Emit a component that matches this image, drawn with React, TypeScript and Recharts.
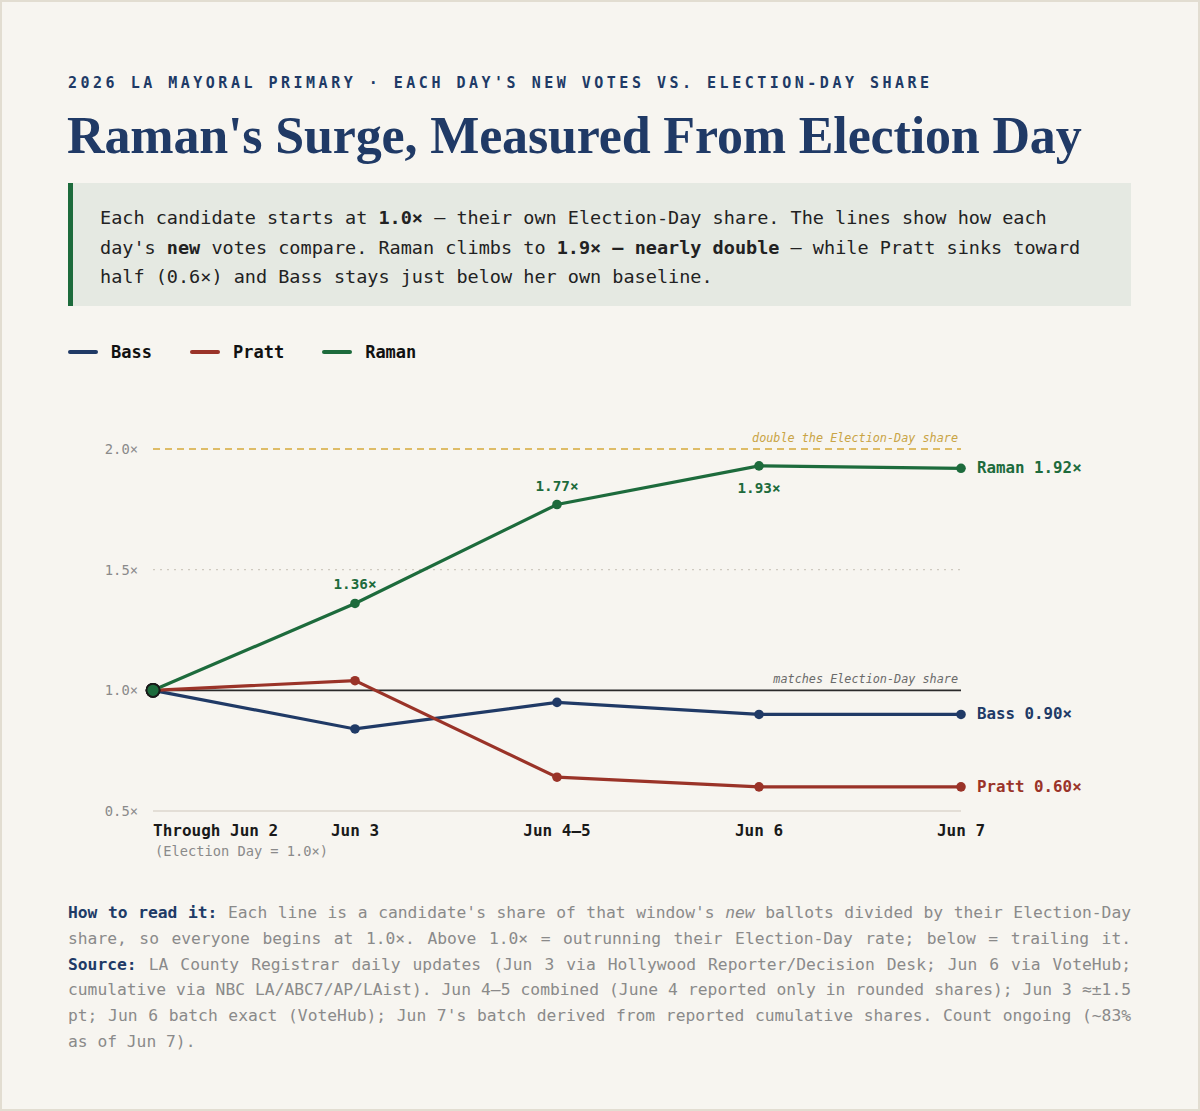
import { LineChart, Line, XAxis, YAxis, ReferenceLine } from "recharts"

const CATEGORIES = ["Through Jun 2", "Jun 3", "Jun 4–5", "Jun 6", "Jun 7"]
const BASS = [1.0, 0.84, 0.95, 0.9, 0.9]
const PRATT = [1.0, 1.04, 0.64, 0.6, 0.6]
const RAMAN = [1.0, 1.36, 1.77, 1.93, 1.92]
const Y_TICKS = [0.5, 1.0, 1.5, 2.0]
// which Raman points get a value label, and where
const RAMAN_LABELS: Record<number, "above" | "below"> = { 1: "above", 2: "above", 3: "below" }

const SERIES = [
  { key: "bass", name: "Bass", color: "#203a66", values: BASS },
  { key: "pratt", name: "Pratt", color: "#9a3328", values: PRATT },
  { key: "raman", name: "Raman", color: "#1d6b3c", values: RAMAN },
]

const data = CATEGORIES.map((c, i) => ({
  cat: c,
  bass: BASS[i],
  pratt: PRATT[i],
  raman: RAMAN[i],
}))

const MONO = "'DejaVu Sans Mono', 'Liberation Mono', monospace"
const NAVY = "#203a66"
const BG = "#f7f5f0"

function XTick({ x, y, payload, index }: any) {
  const first = index === 0
  return (
    <g>
      <text
        x={x}
        y={y + 15}
        textAnchor={first ? "start" : "middle"}
        fontFamily={MONO}
        fontSize={16}
        fontWeight={700}
        fill="#1a1a1a"
      >
        {payload.value}
      </text>
      {first && (
        <text x={x + 2} y={y + 35} textAnchor="start" fontFamily={MONO} fontSize={13.7} fill="#8a8a8a">
          (Election Day = 1.0×)
        </text>
      )}
    </g>
  )
}

function YTick({ x, y, payload }: any) {
  return (
    <text x={x} y={y + 5} textAnchor="end" fontFamily={MONO} fontSize={13.8} fill="#8a8a8a">
      {payload.value.toFixed(1)}×
    </text>
  )
}

function makeDot(color: string) {
  return (props: any) => {
    const { cx, cy, index } = props
    if (index === 0) {
      return <circle key={index} cx={cx} cy={cy} r={6.5} fill={color} stroke="#1a1a1a" strokeWidth={1.8} />
    }
    return <circle key={index} cx={cx} cy={cy} r={4.8} fill={color} />
  }
}

function makeLabel(name: string, color: string, pointLabels?: Record<number, "above" | "below">) {
  return (props: any) => {
    const { x, y, index, value } = props
    if (index === CATEGORIES.length - 1) {
      return (
        <text
          key={index}
          x={x + 16}
          y={y + 5}
          fontFamily={MONO}
          fontSize={15.8}
          fontWeight={700}
          fill={color}
        >
          {name} {Number(value).toFixed(2)}×
        </text>
      )
    }
    const pos = pointLabels?.[index]
    if (!pos) return null
    return (
      <text
        key={index}
        x={x}
        y={pos === "above" ? y - 14 : y + 27}
        textAnchor="middle"
        fontFamily={MONO}
        fontSize={14.3}
        fontWeight={700}
        fill={color}
      >
        {Number(value).toFixed(2)}×
      </text>
    )
  }
}

function RefLabel({ viewBox, text, color }: any) {
  return (
    <text
      x={viewBox.x + viewBox.width - 3}
      y={viewBox.y - 7}
      textAnchor="end"
      fontFamily={MONO}
      fontStyle="italic"
      fontSize={11.8}
      fill={color}
    >
      {text}
    </text>
  )
}

// one justified line of the footnote
function Row({ children, last }: { children: any; last?: boolean }) {
  return (
    <div style={{ textAlign: "justify", textAlignLast: last ? "left" : "justify" }}>{children}</div>
  )
}

export default function App() {
  return (
    <div
      style={{
        position: "absolute",
        left: 0,
        top: 0,
        width: 1200,
        height: 1111,
        background: BG,
        boxShadow: "inset 0 0 0 2px #e2ddd1",
        fontFamily: MONO,
        overflow: "hidden",
      }}
    >
      <div
        style={{
          position: "absolute",
          left: 68,
          top: 74,
          fontSize: 15,
          fontWeight: 700,
          letterSpacing: 3.5,
          color: NAVY,
          whiteSpace: "nowrap",
        }}
      >
        2026 LA MAYORAL PRIMARY · EACH DAY'S NEW VOTES VS. ELECTION-DAY SHARE
      </div>
      <div
        style={{
          position: "absolute",
          left: 67,
          top: 106,
          fontFamily: "'Liberation Serif', 'DejaVu Serif', serif",
          fontSize: 52,
          fontWeight: 700,
          color: NAVY,
          whiteSpace: "nowrap",
          letterSpacing: -0.15,
        }}
      >
        Raman's Surge, Measured From Election Day
      </div>
      <div
        style={{
          position: "absolute",
          left: 68,
          top: 183,
          width: 1063,
          height: 123,
          boxSizing: "border-box",
          background: "#e5e9e2",
          borderLeft: "5px solid #1d6b3c",
          padding: "20px 0 0 27px",
          fontSize: 18.5,
          lineHeight: "29.5px",
          color: "#222",
          whiteSpace: "nowrap",
        }}
      >
        Each candidate starts at <b>1.0×</b> — their own Election-Day share. The lines show how each
        <br />
        day's <b>new</b> votes compare. Raman climbs to <b>1.9× — nearly double</b> — while Pratt sinks toward
        <br />
        half (0.6×) and Bass stays just below her own baseline.
      </div>

      <div
        style={{
          position: "absolute",
          left: 68,
          top: 342,
          display: "flex",
          alignItems: "center",
          gap: 38,
        }}
      >
        {SERIES.map((s) => (
          <div key={s.key} style={{ display: "flex", alignItems: "center", gap: 13 }}>
            <span style={{ width: 30, height: 4, borderRadius: 2, background: s.color, display: "inline-block" }} />
            <span style={{ fontSize: 17, fontWeight: 700, color: "#111" }}>{s.name}</span>
          </div>
        ))}
      </div>

      <div style={{ position: "absolute", left: 0, top: 400 }}>
        <LineChart
          width={1200}
          height={480}
          data={data}
          margin={{ top: 49, right: 239, bottom: 9, left: 103 }}
        >
          <XAxis
            dataKey="cat"
            tick={<XTick />}
            tickLine={false}
            axisLine={{ stroke: "#ddd6ce", strokeWidth: 1.5 }}
            interval={0}
            padding={{ left: 0, right: 0 }}
            height={60}
            tickSize={0}
            tickMargin={10}
          />
          <YAxis
            type="number"
            domain={[0.5, 2.0]}
            ticks={Y_TICKS}
            tick={<YTick />}
            tickLine={false}
            axisLine={false}
            tickSize={0}
            tickMargin={15}
            width={50}
          />
          <ReferenceLine y={1.5} stroke="#cfcac0" strokeDasharray="2 5" strokeWidth={1.2} />
          <ReferenceLine
            y={2.0}
            stroke="#d6a93a"
            strokeDasharray="7 5"
            strokeWidth={1.6}
            label={(p: any) => <RefLabel {...p} text="double the Election-Day share" color="#c9a445" />}
          />
          <ReferenceLine
            y={1.0}
            stroke="#2a2a2a"
            strokeWidth={1.6}
            label={(p: any) => <RefLabel {...p} text="matches Election-Day share" color="#6a6a6a" />}
          />
          {SERIES.map((s) => (
            <Line
              key={s.key}
              dataKey={s.key}
              stroke={s.color}
              strokeWidth={3.2}
              dot={makeDot(s.color)}
              activeDot={false}
              isAnimationActive={false}
              label={makeLabel(s.name, s.color, s.key === "raman" ? RAMAN_LABELS : undefined)}
            />
          ))}
        </LineChart>
      </div>

      <div
        style={{
          position: "absolute",
          left: 68,
          top: 900,
          width: 1063,
          fontSize: 16.3,
          lineHeight: "25.8px",
          color: "#8a8a8a",
          whiteSpace: "nowrap",
        }}
      >
        <Row>
          <b style={{ color: NAVY }}>How to read it:</b> Each line is a candidate's share of that window's{" "}
          <i>new</i> ballots divided by their Election-Day
        </Row>
        <Row>share, so everyone begins at 1.0×. Above 1.0× = outrunning their Election-Day rate; below = trailing it.</Row>
        <Row>
          <b style={{ color: NAVY }}>Source:</b> LA County Registrar daily updates (Jun 3 via Hollywood
          Reporter/Decision Desk; Jun 6 via VoteHub;
        </Row>
        <Row>
          cumulative via NBC LA/ABC7/AP/LAist). Jun 4–5 combined (June 4 reported only in rounded shares); Jun 3 ≈±1.5
        </Row>
        <Row>
          pt; Jun 6 batch exact (VoteHub); Jun 7's batch derived from reported cumulative shares. Count ongoing (~83%
        </Row>
        <Row last>as of Jun 7).</Row>
      </div>
    </div>
  )
}
